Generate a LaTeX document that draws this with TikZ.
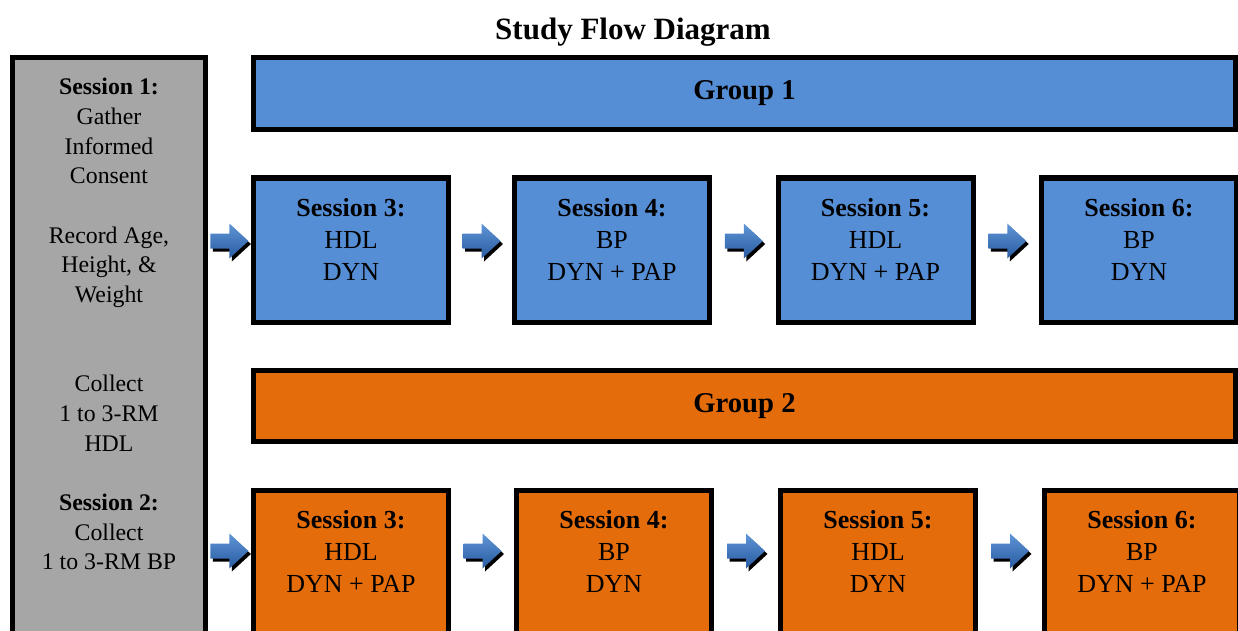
\documentclass[tikz,border=0pt]{standalone}
\usepackage{fontspec}
\setmainfont{Liberation Serif}
\usetikzlibrary{calc}
\definecolor{gbox}{RGB}{166,166,166}
\definecolor{bbox}{RGB}{85,142,213}
\definecolor{obox}{RGB}{228,108,10}
\definecolor{atop}{RGB}{95,150,215}
\definecolor{abot}{RGB}{40,90,160}
\tikzset{
  frame/.style={draw=black, line width=5pt, inner sep=0pt, outer sep=0pt},
  sess/.style={frame, minimum width=195pt, minimum height=144pt},
  banner/.style={frame, minimum width=981.5pt, minimum height=71.5pt, font=\fontsize{28.7}{34}\selectfont\bfseries},
  btxt/.style={align=center, inner sep=0pt, font=\fontsize{26}{32}\selectfont},
  gtxt/.style={align=center, inner sep=0pt, font=\fontsize{23.8}{29.7}\selectfont},
  barrow/.pic={
    \fill[black] (-16.5,-4.5) -- (2.5,-4.5) -- (2.5,-14.5) -- (21.5,3) -- (2.5,20.5) -- (2.5,10.5) -- (-16.5,10.5) -- cycle;
    \shade[top color=atop, bottom color=abot] (-19,-7.5) -- (0,-7.5) -- (0,-17.5) -- (19,0) -- (0,17.5) -- (0,7.5) -- (-19,7.5) -- cycle;
  }
}
\begin{document}
\begin{tikzpicture}[x=1pt,y=-1pt]
\useasboundingbox (0,0) rectangle (1238,631);
\clip (0,0) rectangle (1238,631);
% title
\node[font=\fontsize{31}{36}\selectfont\bfseries] (title) at (633,32.5) {Study Flow Diagram};
% gray session box
\node[frame, fill=gbox, minimum width=192.5pt, minimum height=642pt] (g) at (109,378.75) {};
\node[gtxt, anchor=north] (gt) at (109,78) {\textbf{Session 1:}\\Gather\\Informed\\Consent\\[29.7pt]Record Age,\\Height, \&\\Weight\\[59.4pt]Collect\\1 to 3-RM\\HDL\\[29.7pt]\textbf{Session 2:}\\Collect\\1 to 3-RM BP};
% group banners
\node[banner, fill=bbox] (g1) at (744.5,93.5) {\raisebox{1.5pt}{Group 1}};
\node[banner, fill=obox] (g2) at (744.5,406) {\raisebox{2pt}{Group 2}};
% row 1
\node[sess, fill=bbox] (a1) at (351,250) {};
\node[sess, fill=bbox] (a2) at (612,250) {};
\node[sess, fill=bbox] (a3) at (875.5,250) {};
\node[sess, fill=bbox] (a4) at (1139,250) {};
\node[btxt] (a1t) at ([yshift=10pt]a1.center) {\textbf{Session 3:}\\HDL\\DYN};
\node[btxt] (a2t) at ([yshift=10pt]a2.center) {\textbf{Session 4:}\\BP\\DYN + PAP};
\node[btxt] (a3t) at ([yshift=10pt]a3.center) {\textbf{Session 5:}\\HDL\\DYN + PAP};
\node[btxt] (a4t) at ([yshift=10pt]a4.center) {\textbf{Session 6:}\\BP\\DYN};
% row 2
\node[sess, fill=obox] (b1) at (351,562.5) {};
\node[sess, fill=obox] (b2) at (614,562.5) {};
\node[sess, fill=obox] (b3) at (878,562.5) {};
\node[sess, fill=obox] (b4) at (1142,562.5) {};
\node[btxt] (b1t) at ([yshift=11pt]b1.center) {\textbf{Session 3:}\\HDL\\DYN + PAP};
\node[btxt] (b2t) at ([yshift=11pt]b2.center) {\textbf{Session 4:}\\BP\\DYN};
\node[btxt] (b3t) at ([yshift=11pt]b3.center) {\textbf{Session 5:}\\HDL\\DYN};
\node[btxt] (b4t) at ([yshift=11pt]b4.center) {\textbf{Session 6:}\\BP\\DYN + PAP};
% arrows row 1
\pic at ([yshift=9pt]$(g.east |- a1.west)!0.5!(a1.west)$) {barrow};
\pic at ([yshift=9pt]$(a1.east)!0.5!(a2.west)$) {barrow};
\pic at ([yshift=9pt]$(a2.east)!0.5!(a3.west)$) {barrow};
\pic at ([yshift=9pt]$(a3.east)!0.5!(a4.west)$) {barrow};
% arrows row 2
\pic at ([yshift=11.5pt]$(g.east |- b1.west)!0.5!(b1.west)$) {barrow};
\pic at ([yshift=11.5pt]$(b1.east)!0.5!(b2.west)$) {barrow};
\pic at ([yshift=11.5pt]$(b2.east)!0.5!(b3.west)$) {barrow};
\pic at ([yshift=11.5pt]$(b3.east)!0.5!(b4.west)$) {barrow};
\end{tikzpicture}
\end{document}
